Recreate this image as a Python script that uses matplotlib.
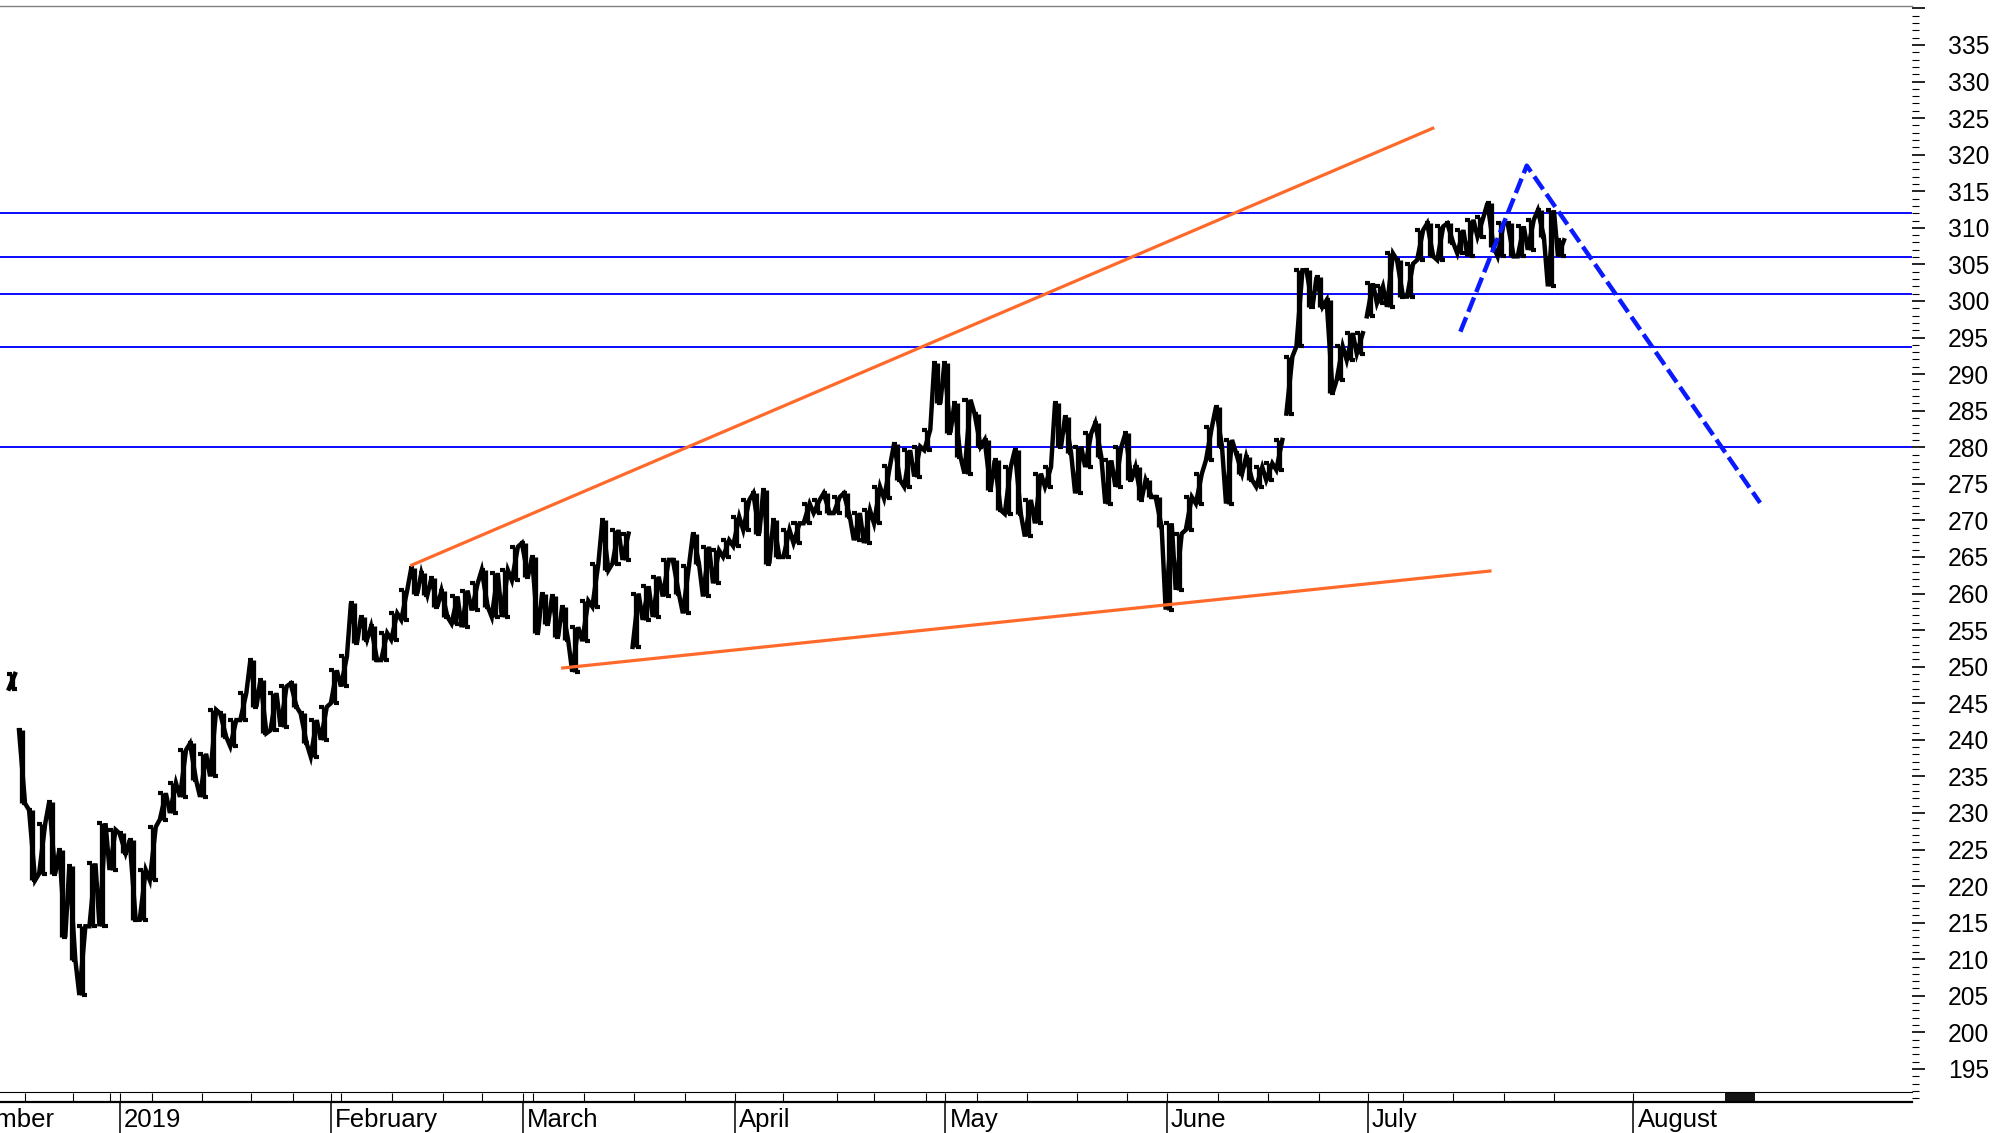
import matplotlib
matplotlib.use('Agg')
from matplotlib import pyplot as plt
from matplotlib.ticker import MultipleLocator, FuncFormatter
import numpy as np

plt.rcParams['font.family'] = ['Liberation Sans', 'DejaVu Sans']

# Daily high / low (trading-day index 0 = mid December 2018)
day_high = [249.0, 241.3, 230.4, 228.5, 231.5, 224.9, 222.7, 214.5, 223.1, 228.6,
            227.7, 227.2, 226.3, 222.2, 228.1, 232.7, 234.1, 238.6, 239.5, 238.1,
            244.1, 243.6, 242.7, 246.4, 250.9, 248.2, 246.4, 247.3, 247.7, 243.6,
            242.7, 244.5, 249.5, 251.4, 258.7, 256.8, 255.5, 254.6, 257.3, 260.5,
            263.5, 262.8, 262.1, 260.4, 259.6, 260.4, 261.4, 263.2, 262.8, 263.2,
            266.4, 266.9, 265.0, 260.0, 259.6, 258.2, 255.4, 259.0, 264.1, 270.0,
            268.7, 268.2, 260.0, 261.0, 262.3, 264.6, 264.6, 263.7, 268.2, 266.4,
            265.9, 267.3, 270.5, 272.8, 273.7, 274.2, 270.0, 268.7, 269.6, 272.3,
            272.8, 273.7, 273.2, 273.7, 271.0, 271.4, 274.6, 277.5, 280.5, 279.6,
            280.1, 282.4, 291.5, 291.5, 286.0, 286.5, 284.6, 281.0, 278.2, 277.3,
            279.6, 272.8, 276.4, 277.3, 286.0, 284.2, 280.1, 281.9, 283.3, 278.2,
            280.1, 281.9, 277.3, 275.5, 273.2, 269.6, 268.2, 273.2, 276.4, 282.8,
            285.5, 281.0, 279.2, 278.7, 277.3, 277.8, 281.0, 292.4, 304.2, 304.2,
            303.3, 300.1, 293.8, 295.6, 295.6, 302.4, 302.0, 306.5, 305.6, 305.1,
            309.7, 310.6, 310.2, 310.6, 309.7, 311.1, 311.5, 313.4, 310.6, 310.6,
            310.2, 311.1, 312.4, 312.4, 308.3]
day_low = [247.0, 231.3, 220.8, 221.7, 221.7, 213.0, 209.9, 205.1, 214.5, 214.5,
           222.2, 224.5, 215.4, 215.4, 220.8, 229.1, 230.0, 232.2, 234.5, 232.2,
           235.0, 240.4, 239.1, 242.7, 244.5, 240.9, 241.3, 241.8, 244.5, 239.5,
           237.7, 240.0, 245.0, 247.3, 253.2, 253.7, 250.9, 250.9, 253.7, 256.4,
           260.0, 259.8, 258.2, 256.8, 255.9, 255.4, 257.7, 258.2, 256.8, 256.8,
           261.8, 262.3, 254.6, 255.9, 254.1, 253.6, 249.3, 253.5, 258.2, 263.2,
           264.1, 264.6, 252.7, 256.4, 256.8, 259.6, 260.0, 257.3, 264.1, 259.6,
           261.4, 265.0, 266.5, 268.7, 268.2, 264.1, 265.0, 265.0, 266.9, 269.6,
           271.0, 271.0, 271.0, 270.5, 267.3, 266.9, 269.6, 273.0, 275.5, 274.6,
           276.0, 279.6, 286.0, 282.0, 278.7, 276.4, 280.1, 274.2, 271.4, 270.9,
           270.9, 267.8, 269.6, 274.6, 280.1, 279.2, 273.7, 277.3, 278.7, 272.3,
           274.6, 275.5, 272.8, 273.2, 269.1, 257.8, 260.5, 268.7, 272.3, 278.2,
           280.1, 272.3, 276.4, 275.5, 274.6, 275.5, 276.9, 284.6, 293.8, 299.2,
           299.2, 287.4, 289.2, 291.9, 292.8, 297.9, 299.7, 299.2, 300.6, 300.6,
           305.6, 306.1, 305.6, 307.9, 306.5, 306.1, 308.8, 307.4, 306.1, 306.1,
           306.1, 307.0, 308.8, 302.0, 306.1]
# days where the trace restarts after a price gap
gap_starts = [1, 62, 127, 135]

# horizontal support / resistance levels
levels = [312.0, 306.05, 300.95, 293.75, 280.0]

# trend lines (index, price)
upper_x, upper_y = [39.6, 141.4], [263.8, 323.7]
lower_x, lower_y = [54.6, 147.1], [249.8, 263.1]
proj_x, proj_y = [144.0, 150.6, 173.8], [295.8, 318.5, 272.4]

# x axis: month separators and weekly ticks (trading-day index)
month_pos = [10.7, 31.7, 50.8, 71.9, 92.8, 114.8, 134.8, 161.2]
month_names = ['2019', 'February', 'March', 'April', 'May', 'June', 'July', 'August']
week_pos = [1.25, 6.1, 9.7, 13.9, 18.9, 23.8, 27.9, 32.75, 37.8, 42.9, 46.7,
            51.8, 56.85, 61.8, 66.9, 76.7, 82.0, 85.7, 90.9, 95.9, 100.9, 105.9,
            110.9, 119.9, 124.9, 129.9, 138.25, 143.25, 148.3, 153.3]

fig = plt.figure(figsize=(20.15, 11.33), dpi=100)
ax = fig.add_axes([0, 0.02736, 0.94888, 0.96734])

# price bars
hi = np.array(day_high)
lo = np.array(day_low)
x = np.arange(len(hi))
ax.vlines(x, lo, hi, color='black', lw=3.8)
ax.hlines(hi, x - 0.5, x, color='black', lw=3.0)
ax.hlines(lo, x, x + 0.5, color='black', lw=3.0)

# jagged trace linking the bars (walks toward the next day's range)
mid = (hi + lo) / 2
bounds = [0] + gap_starts + [len(hi)]
for a, b in zip(bounds[:-1], bounds[1:]):
    px, py = [], []
    for i in range(a, b):
        nxt = mid[i + 1] if i + 1 < b else mid[i]
        first, last = (lo[i], hi[i]) if nxt >= mid[i] else (hi[i], lo[i])
        px += [i - 0.3, i + 0.3]
        py += [first, last]
    ax.plot(px, py, color='black', lw=3.2, solid_joinstyle='miter')

for lvl in levels:
    ax.axhline(lvl, color='#0a0aff', lw=1.4, zorder=1)

ax.plot(upper_x, upper_y, color='#ff6a2b', lw=2.3, solid_capstyle='butt')
ax.plot(lower_x, lower_y, color='#ff6a2b', lw=2.3, solid_capstyle='butt')
ax.plot(proj_x, proj_y, color='#0a1aff', lw=3.2, linestyle=(0, (3.5, 1.3)))

ax.set_xlim(-1.19, 188.9)
ax.set_ylim(190.48, 340.33)

# spines
ax.spines['left'].set_visible(False)
ax.spines['right'].set_visible(False)
ax.spines['top'].set_color('#808080')
ax.spines['top'].set_linewidth(1.0)
ax.spines['bottom'].set_linewidth(1.6)

# price axis on the right
ax.yaxis.tick_right()
ax.yaxis.set_major_locator(MultipleLocator(5))
ax.yaxis.set_minor_locator(MultipleLocator(1))
ax.yaxis.set_major_formatter(FuncFormatter(lambda v, p: '' if v > 337 else '%d' % v))
ax.tick_params(axis='y', which='major', length=9.4, width=1.2, pad=16.5,
               labelsize=17.7, direction='out')
ax.tick_params(axis='y', which='minor', length=5, width=0.8, direction='out')

# time axis ruler
ax.xaxis.remove_overlapping_locs = False
ax.set_xticks(month_pos)
ax.set_xticks(week_pos + month_pos, minor=True)
ax.set_xticklabels([])
ax.tick_params(axis='x', which='major', direction='out', length=22.3, width=1.1)
ax.tick_params(axis='x', which='minor', direction='in', length=6.8, width=0.8)
ruler = 0.00867
ax.plot([0, 1], [ruler, ruler], transform=ax.transAxes, color='black', lw=0.8,
        clip_on=False)
ax.axvspan(170.3, 173.3, ymin=0, ymax=ruler, color='#151515', lw=0)

for pos, name in zip(month_pos, month_names):
    ax.annotate(name, xy=(pos, 0), xycoords=('data', 'axes fraction'),
                xytext=(3.0, -4), textcoords='offset points', ha='left', va='top',
                fontsize=18.5)
ax.annotate('December', xy=(4.27, 0), xycoords=('data', 'axes fraction'),
            xytext=(0, -4), textcoords='offset points', ha='right', va='top',
            fontsize=18.5)

fig.savefig('out.png', dpi=100)
